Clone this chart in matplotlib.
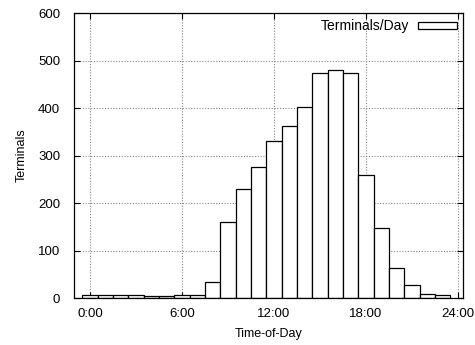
import numpy as np
import matplotlib.pyplot as plt

plt.rcParams['font.family'] = ['Liberation Sans', 'DejaVu Sans']
plt.rcParams['font.size'] = 9

# terminals per hour of day
hours = np.arange(24)
terminals = [6, 6, 6, 6, 4, 4, 6, 6, 33, 160, 230, 275, 330, 363, 403, 474,
             480, 473, 260, 147, 63, 27, 8, 6]
xticks = [0, 6, 12, 18, 24]
xtick_labels = ['0:00', '6:00', '12:00', '18:00', '24:00']
yticks = [0, 100, 200, 300, 400, 500, 600]

fig = plt.figure(figsize=(4.75, 3.45), dpi=100)
ax = fig.add_axes([0.1558, 0.1362, 0.819, 0.826])

ax.bar(hours, terminals, width=1.0, color='white', edgecolor='black',
       linewidth=0.9, label='Terminals/Day', zorder=2)

ax.set_xlim(-1.05, 24.33)
ax.set_ylim(0, 600)
ax.set_xticks(xticks)
ax.set_xticklabels(xtick_labels)
ax.set_yticks(yticks)
ax.tick_params(direction='in', top=True, right=True, length=4, width=0.8,
               labelsize=9.5)
ax.tick_params(axis='y', pad=10)
ax.tick_params(axis='x', pad=7)
ax.grid(True, color='#888888', linestyle=(0, (1, 1.5)), linewidth=0.8, zorder=0)
for s in ax.spines.values():
    s.set_linewidth(0.9)
    s.set_zorder(3)

ax.set_xlabel('Time-of-Day', fontsize=9, labelpad=6)
ax.set_ylabel('Terminals', fontsize=9, labelpad=7)

ax.legend(loc='upper right', frameon=False, markerfirst=False,
          handlelength=2.8, handleheight=0.45, handletextpad=0.6,
          borderaxespad=0.15, borderpad=0.3, fontsize=10)

fig.savefig('out.png', dpi=100)
